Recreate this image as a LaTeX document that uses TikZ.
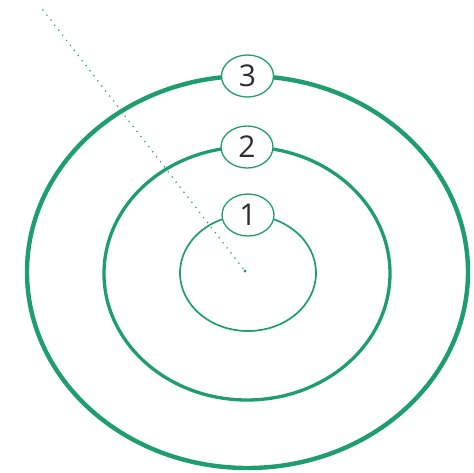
\documentclass[tikz,border=0pt]{standalone}
\usepackage{fontspec}
\setmainfont{Open Sans}
\usepackage{tikz}
\usetikzlibrary{shapes.geometric, positioning}
\definecolor{ringgreen}{RGB}{30, 157, 111}
\definecolor{labelgray}{RGB}{45, 45, 55}

\begin{document}
\begin{tikzpicture}[
    x=1pt, y=-1pt,
    ring/.style={ellipse, draw=ringgreen, inner sep=0pt, outer sep=0pt},
    badge/.style={ellipse, draw=ringgreen, fill=white, line width=1.3pt, minimum width=52pt, minimum height=42pt, inner sep=0pt, text=labelgray, font=\fontsize{30}{32}\selectfont},
    pointer/.style={draw=ringgreen, line width=1.7pt, line cap=round, dash pattern=on 0pt off 6.4pt}
]
    \useasboundingbox (0,0) rectangle (474,472);

    \coordinate (origin) at (245,271);
    \coordinate (tail) at (43,10);
    \draw[pointer] (tail) -- (origin);
    \fill[ringgreen] (origin) circle (1.7pt);

    \node[ring, line width=4.4pt, minimum width=441pt, minimum height=392pt] (outer) at (247.5,272) {};
    \node[ring, line width=3.3pt, minimum width=286pt, minimum height=253pt] (middle) at (247,273.5) {};
    \node[ring, line width=1.7pt, minimum width=136pt, minimum height=116pt] (inner) at (248,273) {};

    \node[badge] (three) at (outer.north) {3};
    \node[badge] (two) at (middle.north) {2};
    \node[badge] (one) at (inner.north) {1};
\end{tikzpicture}
\end{document}
